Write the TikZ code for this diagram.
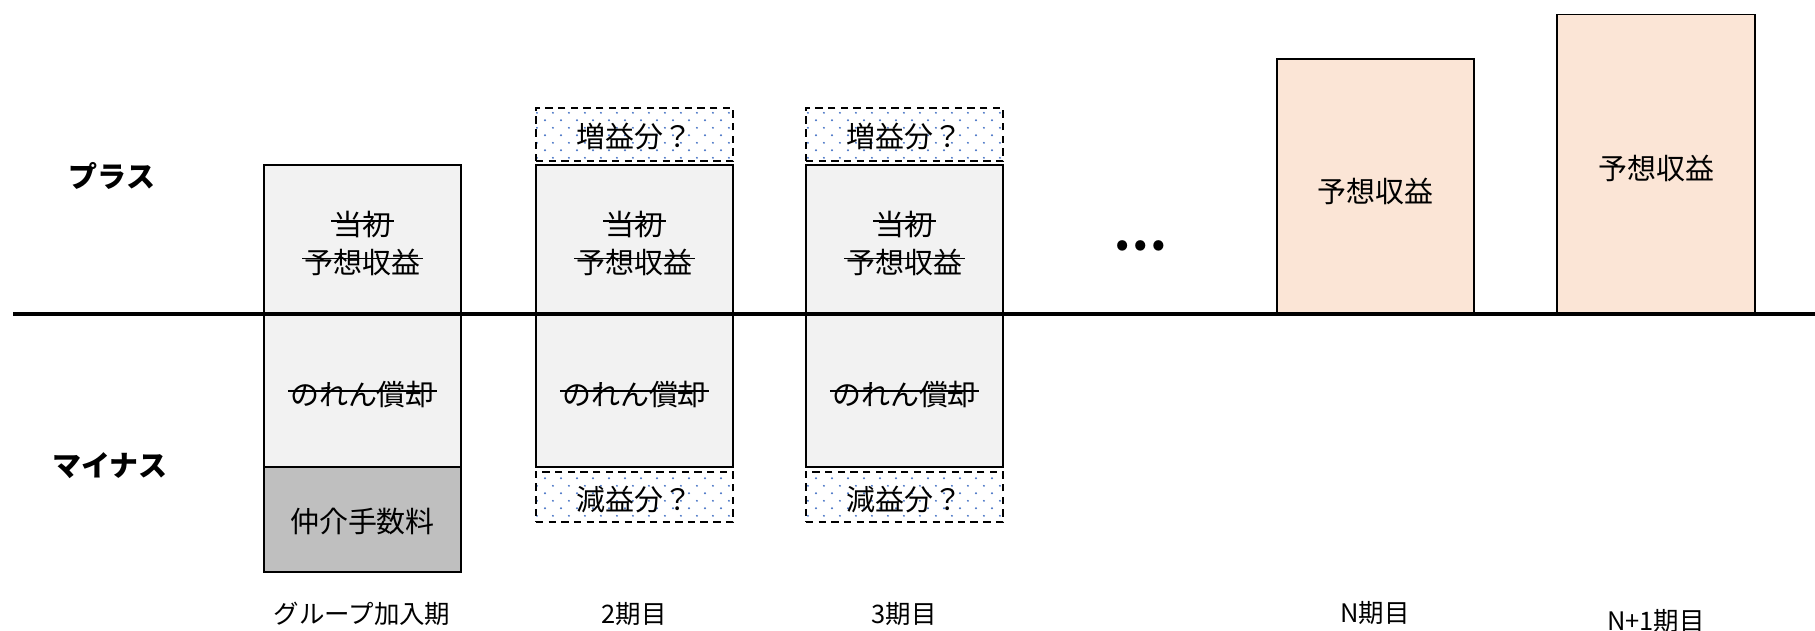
\documentclass[tikz,border=0pt]{standalone}
\usepackage{fontspec}
\setmainfont{Noto Sans CJK JP}
\usetikzlibrary{patterns.meta}
\definecolor{boxgray}{HTML}{F2F2F2}
\definecolor{darkfill}{HTML}{BFBFBF}
\definecolor{peach}{HTML}{FBE5D6}
\definecolor{dotblue}{HTML}{4472C4}
\tikzdeclarepattern{
  name=stagdots,
  type=uncolored,
  bounding box={(0pt,0pt) and (9.07pt,8.5pt)},
  tile size={(9.07pt,8.5pt)},
  code={
    \fill (2.27pt,2.12pt) circle (0.6pt);
    \fill (6.8pt,6.37pt) circle (0.6pt);
  }
}
\begin{document}
\begin{tikzpicture}[x=0.02cm,y=-0.02cm,
  basebox/.style={draw=black, line width=1.1pt, minimum width=3.94cm, inner sep=0pt},
  lightbox/.style={basebox, fill=boxgray},
  darkbox/.style={basebox, fill=darkfill},
  peachbox/.style={basebox, fill=peach},
  dashbox/.style={basebox, line width=1.5pt, dash pattern=on 4.2pt off 3pt,
     pattern=stagdots, pattern color=dotblue},
  txt/.style={inner sep=0pt, font=\fontsize{16.5}{20}\selectfont},
  strike/.style={line width=0.65pt},
  lbl/.style={inner sep=0pt, font=\fontsize{14.5}{17}\selectfont},
  side/.style={inner sep=0pt, font=\fontsize{16.5}{20}\selectfont\bfseries},
  axisline/.style={line width=2.2pt}
]
\useasboundingbox (0,0) rectangle (1815,631);

% column boxes
\foreach \i/\x in {1/362.5,2/634.5,3/904.5}{
  \node[lightbox, minimum height=2.98cm] (c\i p) at (\x,239.5) {};
  \node[lightbox, minimum height=3.06cm] (c\i m) at (\x,390.5) {};
  \node[txt] (c\i a) at (\x,225) {当初};
  \node[txt] (c\i b) at (\x,262) {予想収益};
  \node[txt] (c\i c) at (\x,395) {のれん償却};
  \draw[strike] ([xshift=-1pt,yshift=8.5pt]c\i a.base west) -- ([xshift=1pt,yshift=8.5pt]c\i a.base east);
  \draw[strike] ([xshift=-1pt,yshift=8.5pt]c\i b.base west) -- ([xshift=1pt,yshift=8.5pt]c\i b.base east);
  \draw[strike] ([xshift=-1pt,yshift=8.5pt]c\i c.base west) -- ([xshift=1pt,yshift=8.5pt]c\i c.base east);
}
\node[darkbox, minimum height=2.1cm] (c1f) at (362.5,519.5) {};
\node[txt] (c1ft) at (362.5,522) {仲介手数料};

\foreach \i/\x in {2/634.5,3/904.5}{
  \node[dashbox, minimum height=1.06cm] (c\i g) at (\x,134.5) {};
  \node[txt] (c\i gt) at (\x,137) {増益分？};
  \node[dashbox, minimum height=1.0cm] (c\i l) at (\x,497) {};
  \node[txt] (c\i lt) at (\x,499.5) {減益分？};
}

% future periods
\node[peachbox, minimum height=5.1cm] (nbox) at (1375.5,186.5) {};
\node[txt] (nboxt) at (1375.5,191) {予想収益};
\node[peachbox, minimum height=6.02cm, minimum width=3.96cm] (n1box) at (1656,165) {};
\node[txt] (n1boxt) at (1656,168) {予想収益};

% axis
\coordinate (axL) at (13,314);
\coordinate (axR) at (1815,314);
\draw[axisline] (axL) -- (axR);

% side labels
\node[side] (plus) at (112,176) {プラス};
\node[side] (minus) at (110,466) {マイナス};

% ellipsis
\node[inner sep=0pt, font=\fontsize{27.2}{30}\selectfont\bfseries] (dots) at (1140,246) {…};

% period labels
\node[lbl] (p1) at (362,614) {グループ加入期};
\node[lbl] (p2) at (634,614) {2期目};
\node[lbl] (p3) at (904,614) {3期目};
\node[lbl] (pn) at (1375,613) {N期目};
\node[lbl] (pn1) at (1656,621) {N+1期目};
\end{tikzpicture}
\end{document}
